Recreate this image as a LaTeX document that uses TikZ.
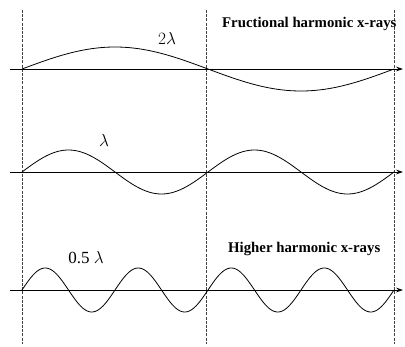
\documentclass[tikz,border=0pt]{standalone}
\usepackage{fontspec}
\setmainfont{Liberation Serif}
\usetikzlibrary{arrows.meta}

\begin{document}
\begin{tikzpicture}[
    x=1pt, y=-1pt,
    >={Stealth[length=2.4mm,width=1.6mm]},
    axis/.style={->, line width=0.9pt},
    wave/.style={line width=0.8pt, smooth},
    guide/.style={line width=0.5pt, black!75, dash pattern=on 3pt off 1.2pt},
    lbl/.style={font=\bfseries\fontsize{14.8}{16}\selectfont, inner sep=0pt},
    wlbl/.style={font=\fontsize{17}{19}\selectfont, inner sep=0pt}
  ]
\useasboundingbox (0,0) rectangle (405,346);

% vertical dashed guides
\foreach \gx in {22,206,394}{
  \draw[guide] (\gx,10) -- (\gx,344);
}

% axes
\foreach \ay in {69,172,290}{
  \draw[axis] (10,\ay) -- (403,\ay);
}

% 2 lambda: one period over the span
\draw[wave] plot[domain=22:394, samples=120] (\x, {69 - 22*sin((\x-22)/372*360)});
% lambda: two periods
\draw[wave] plot[domain=22:394, samples=160] (\x, {172 - 22*sin((\x-22)/372*720)});
% 0.5 lambda: four periods
\draw[wave] plot[domain=22:394, samples=240] (\x, {290 - 22*sin((\x-22)/372*1440)});

% labels
\node[wlbl] (twolam) at (167,38) {$2\lambda$};
\node[wlbl] (lam) at (104,140) {$\lambda$};
\node[wlbl] (halflam) at (86,258) {0.5 $\lambda$};
\node[lbl, anchor=base west] (frac) at (222,27) {Fructional harmonic x-rays};
\node[lbl, anchor=base west] (high) at (228,252) {Higher harmonic x-rays};

\end{tikzpicture}
\end{document}
